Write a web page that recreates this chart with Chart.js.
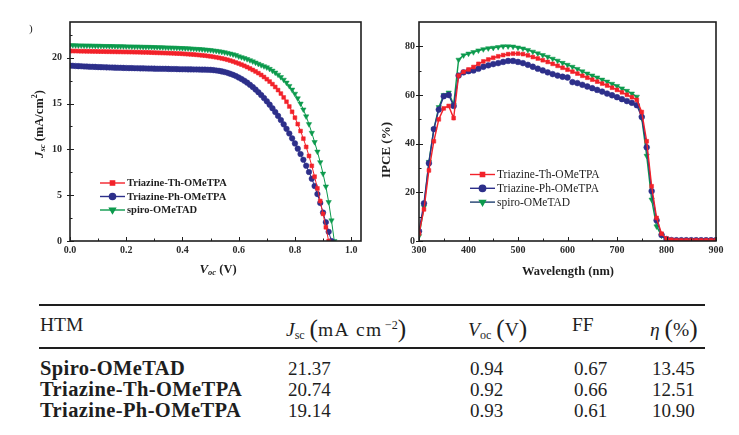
<!DOCTYPE html>
<html><head><meta charset="utf-8">
<script src="https://cdn.jsdelivr.net/npm/chart.js@4.4.1/dist/chart.umd.min.js"></script>
<style>
html,body{margin:0;padding:0;background:#fff;}
body{width:739px;height:435px;position:relative;overflow:hidden;font-family:"Liberation Serif",serif;color:#1e1e1e;}
#c1{position:absolute;left:0;top:0;}
#c2{position:absolute;left:370px;top:0;}
.t{position:absolute;white-space:nowrap;font-size:19px;line-height:1;}
.h{font-size:19.5px;}
.b{font-weight:bold;font-size:20.5px;letter-spacing:0.4px;}
.rule{position:absolute;left:39px;width:666px;background:#1e1e1e;}
.sub{font-size:0.62em;position:relative;top:0.28em;font-style:normal;}
.sup{font-size:0.62em;position:relative;top:-0.55em;}
.it{font-style:italic;}
.big{font-size:1.3em;position:relative;top:0.04em;}
.wide{letter-spacing:1.3px;}
</style></head><body>
<canvas id="c1" width="370" height="290"></canvas>
<canvas id="c2" width="369" height="290"></canvas>
<div class="t" style="left:29px;top:23px;font-size:11px;">)</div>
<div class="rule" style="top:304px;height:2px;"></div>
<div class="rule" style="top:347px;height:1.5px;"></div>
<div id="table"></div>
<script>
// ---------------- DATA ----------------
const seriesNames = ['Triazine-Th-OMeTPA', 'Triazine-Ph-OMeTPA', 'spiro-OMeTAD'];

// J-V curves (V in volts, J in mA/cm2)
const jvVoltage = [0.00,0.01,0.02,0.03,0.04,0.05,0.06,0.07,0.08,0.09,0.10,0.11,0.12,0.13,0.14,0.15,0.16,0.17,0.18,0.19,
  0.20,0.21,0.22,0.23,0.24,0.25,0.26,0.27,0.28,0.29,0.30,0.31,0.32,0.33,0.34,0.35,0.36,0.37,0.38,0.39,
  0.40,0.41,0.42,0.43,0.44,0.45,0.46,0.47,0.48,0.49,0.50,0.51,0.52,0.53,0.54,0.55,0.56,0.57,0.58,0.59,
  0.60,0.61,0.62,0.63,0.64,0.65,0.66,0.67,0.68,0.69,0.70,0.71,0.72,0.73,0.74,0.75,0.76,0.77,0.78,0.79,
  0.80,0.81,0.82,0.83,0.84,0.85,0.86,0.87,0.88,0.89,0.90,0.91,0.92,0.93,0.94];

const jvTh = [20.74,20.73,20.73,20.72,20.71,20.71,20.70,20.70,20.69,20.69,20.68,20.67,20.67,20.66,20.66,20.65,20.65,20.64,20.64,20.63,
  20.63,20.62,20.62,20.61,20.61,20.60,20.59,20.59,20.58,20.56,20.55,20.54,20.53,20.52,20.51,20.50,20.49,20.48,20.46,20.45,
  20.43,20.41,20.39,20.37,20.35,20.32,20.29,20.26,20.23,20.19,20.15,20.10,20.05,19.99,19.93,19.86,19.78,19.69,19.59,19.48,
  19.37,19.25,19.12,18.98,18.83,18.67,18.50,18.32,18.12,17.90,17.66,17.40,17.12,16.81,16.47,16.09,15.67,15.20,14.68,14.10,
  13.46,12.76,12.00,11.17,10.27,9.28,8.20,7.02,5.74,4.36,2.96,1.50,0.00];

const jvPh = [19.14,19.12,19.10,19.08,19.07,19.05,19.04,19.02,19.01,19.00,18.98,18.97,18.96,18.95,18.94,18.93,18.92,18.91,18.90,18.89,
  18.88,18.87,18.87,18.86,18.85,18.84,18.84,18.83,18.82,18.82,18.81,18.80,18.80,18.79,18.79,18.78,18.77,18.77,18.76,18.75,
  18.74,18.74,18.73,18.73,18.72,18.72,18.71,18.70,18.70,18.69,18.68,18.65,18.61,18.57,18.51,18.44,18.35,18.25,18.13,18.00,
  17.85,17.68,17.49,17.28,17.05,16.80,16.53,16.24,15.93,15.60,15.25,14.88,14.49,14.08,13.65,13.20,12.73,12.24,11.73,11.20,
  10.65,10.08,9.49,8.87,8.22,7.53,6.80,6.00,5.12,4.15,3.10,2.05,1.00,0.00];

const jvSpiro = [21.37,21.36,21.35,21.34,21.34,21.33,21.32,21.32,21.31,21.30,21.30,21.29,21.28,21.28,21.27,21.27,21.26,21.25,21.25,21.24,
  21.23,21.23,21.22,21.21,21.21,21.20,21.19,21.18,21.18,21.17,21.16,21.15,21.14,21.13,21.12,21.11,21.10,21.09,21.08,21.06,
  21.05,21.03,21.02,21.00,20.98,20.96,20.94,20.92,20.89,20.86,20.83,20.79,20.75,20.70,20.65,20.59,20.52,20.45,20.37,20.28,
  20.15,20.06,19.96,19.85,19.73,19.60,19.47,19.33,19.19,19.07,18.95,18.78,18.59,18.38,18.15,17.89,17.60,17.28,16.92,16.52,
  16.07,15.57,15.00,14.35,13.60,12.75,11.80,10.80,9.75,8.60,7.35,5.95,4.25,2.25,0.00];

// IPCE spectra (wavelength in nm, IPCE in %)
const wavelength = [300,310,320,330,340,350,360,370,380,390,400,410,420,430,440,450,460,470,480,490,
  500,510,520,530,540,550,560,570,580,590,600,610,620,630,640,650,660,670,680,690,
  700,710,720,730,740,750,760,770,780,790,800,810,820,830,840,850,860,870,880,890,900];

const ipceTh = [3,13,29,41,50,54.5,55.5,50.5,68,69.5,70.5,71.5,72.8,73.8,74.6,75.3,75.9,76.4,76.8,77,
  77,76.8,76.3,75.6,75,74.3,73.6,72.8,72,71.2,70.4,69.6,68.8,67.9,67.1,66.3,65.5,64.7,63.9,63,
  62.1,61.1,60.1,59.1,58,53,41,22.5,9.5,3,1,0.5,0.3,0.3,0.3,0.3,0.3,0.3,0.3,0.3,0.3];

const ipcePh = [4,15.5,32,46,54,59.5,60,55.5,68,69.3,69.8,70.1,70.8,71.6,72.2,72.7,73.1,73.6,74,74,
  73.6,73.1,72.4,71.6,70.8,70.1,69.3,68.6,68,67.5,67.2,65.3,64.9,64.2,63.5,62.8,62.1,61.4,60.6,59.9,
  59.1,58.3,57.5,56.8,55.8,51,38.5,20.5,8.5,2.5,0.8,0.4,0.3,0.3,0.3,0.3,0.3,0.3,0.3,0.3,0.3];

const ipceSpiro = [2,14,32.5,46,55,60,61,56,74.5,76.3,77,77.6,78.3,78.8,79.2,79.4,79.7,80,80,79.9,
  79.5,79.1,78.5,77.8,77.1,76.4,75.7,74.9,74.1,73.2,72.4,71.6,70.7,69.7,68.8,68,67.2,66.3,65.5,64.6,
  63.7,62.7,61.7,60.6,59.3,50.5,35,17,6,2.2,0.8,0.4,0.3,0.3,0.3,0.3,0.3,0.3,0.3,0.3,0.3];

// Axis ticks
const jvXTicks = [0.0,0.2,0.4,0.6,0.8,1.0];
const jvXMinor = [0.1,0.3,0.5,0.7,0.9];
const jvYTicks = [0,5,10,15,20];
const jvYMinor = [2.5,7.5,12.5,17.5,22.5];
const ipceXTicks = [300,400,500,600,700,800,900];
const ipceXMinor = [350,450,550,650,750,850];
const ipceYTicks = [0,20,40,60,80];
const ipceYMinor = [10,30,50,70];

// Table
const tableHeaders = ['HTM','Jsc','Voc','FF','eta'];
const tableHTM = ['Spiro-OMeTAD','Triazine-Th-OMeTPA','Triazine-Ph-OMeTPA'];
const tableJsc = [21.37,20.74,19.14];
const tableVoc = [0.94,0.92,0.93];
const tableFF = [0.67,0.66,0.61];
const tableEta = [13.45,12.51,10.90];

// ---------------- STYLE ----------------
const RED = '#f2222a', BLUE = '#2d2f8a', GREEN = '#0c9a4d', INK = '#1e1e1e';
const SERIF = '"Liberation Serif", "Times New Roman", serif';

function pts(xs, ys){ return ys.map((y,i)=>({x:xs[i], y:y})); }

const framePlugin = {
  id:'frame',
  afterDraw(chart, args, o){
    const {ctx, chartArea:a, scales} = chart;
    const xs = scales.x, ys = scales.y;
    ctx.save();
    ctx.strokeStyle = INK;
    ctx.lineWidth = 1;
    const ln = (x1,y1,x2,y2)=>{ctx.beginPath();ctx.moveTo(x1,y1);ctx.lineTo(x2,y2);ctx.stroke();};
    o.xMajor.forEach(v=>{const p=Math.round(xs.getPixelForValue(v))+0.5; ln(p,a.bottom,p,a.bottom-4);});
    o.xMinor.forEach(v=>{const p=Math.round(xs.getPixelForValue(v))+0.5; ln(p,a.bottom,p,a.bottom-2.5);});
    o.yMajor.forEach(v=>{const p=Math.round(ys.getPixelForValue(v))+0.5; ln(a.left-3,p,a.left+4,p);});
    o.yMinor.forEach(v=>{const p=Math.round(ys.getPixelForValue(v))+0.5; ln(a.left,p,a.left+2.5,p);});
    ctx.lineWidth = 1.6;
    ctx.strokeRect(a.left, a.top, a.right-a.left, a.bottom-a.top);
    ctx.restore();
  }
};

function drawRich(ctx, parts, cx, cy, rot){
  ctx.save();
  ctx.translate(cx, cy);
  if (rot) ctx.rotate(rot);
  let w = 0;
  parts.forEach(p=>{ctx.font = p.f; w += ctx.measureText(p.t).width;});
  let x = -w/2;
  ctx.textBaseline = 'middle';
  ctx.fillStyle = INK;
  parts.forEach(p=>{ctx.font = p.f; ctx.fillText(p.t, x, p.dy||0); x += ctx.measureText(p.t).width;});
  ctx.restore();
}

const titlePlugin = {
  id:'titles',
  afterDraw(chart, args, o){
    o.items.forEach(it=>drawRich(chart.ctx, it.parts, it.x, it.y, it.rot));
  }
};

const legendPlugin = {
  id:'customLegend',
  afterDraw(chart, args, o){
    const ctx = chart.ctx;
    chart.data.datasets.forEach((ds,i)=>{
      const y = o.y0 + i*o.dy;
      ctx.save();
      ctx.strokeStyle = (o.lineColors && o.lineColors[i]) || ds.borderColor;
      ctx.lineWidth = 1.4;
      ctx.beginPath(); ctx.moveTo(o.x0, y); ctx.lineTo(o.x0+o.len, y); ctx.stroke();
      ctx.fillStyle = ds.pointBackgroundColor;
      ctx.strokeStyle = ds.pointBackgroundColor;
      Chart.helpers.drawPoint(ctx, {pointStyle: ds.pointStyle, radius: ds.pointRadius+0.3, rotation: ds.pointRotation||0, borderWidth: 0.5}, o.x0+o.len/2, y);
      ctx.fillStyle = INK;
      ctx.font = o.font;
      ctx.textBaseline = 'middle';
      ctx.fillText(ds.label, o.x0+o.len+2, y+0.5);
      ctx.restore();
    });
  }
};

function fixedTicks(arr){ return (scale)=>{ scale.ticks = arr.map(v=>({value:v})); }; }
const tickFont = {family: SERIF, weight:'bold', size:10};

function ds(label, data, color, style, radius, rot, lw, extra){
  return Object.assign({
    label, data, borderColor: color, backgroundColor: color,
    pointBackgroundColor: color, pointBorderColor: color, pointBorderWidth: 0.5,
    pointStyle: style, pointRadius: radius, pointRotation: rot, borderWidth: lw,
    tension: 0, fill: false
  }, extra||{});
}

const noGrid = {display:false, drawTicks:false};

// ---------------- LEFT: J-V ----------------
new Chart(document.getElementById('c1'), {
  type:'line',
  data:{datasets:[
    ds(seriesNames[0], pts(jvVoltage, jvTh), RED, 'rect', 2.7, 0, 1),
    ds(seriesNames[1], pts(jvVoltage, jvPh), BLUE, 'circle', 2.8, 0, 1),
    ds(seriesNames[2], pts(jvVoltage, jvSpiro), GREEN, 'triangle', 3.1, 180, 1)
  ]},
  options:{
    responsive:false, animation:false, devicePixelRatio:1,
    layout:{padding:{left:0, top:22, right:9, bottom:0}},
    scales:{
      x:{type:'linear', min:0, max:1.035, afterBuildTicks: fixedTicks(jvXTicks),
         afterFit:(s)=>{s.height=49;},
         grid:noGrid, border:{display:false},
         ticks:{font:tickFont, color:'#2a2a2a', padding:3, maxRotation:0, autoSkip:false, callback:(v)=>Number(v).toFixed(1)}},
      y:{type:'linear', min:0, max:23.9, afterBuildTicks: fixedTicks(jvYTicks),
         afterFit:(s)=>{s.width=70;},
         grid:noGrid, border:{display:false},
         ticks:{font:tickFont, color:'#2a2a2a', padding:8, autoSkip:false, callback:(v)=>String(v)}}
    },
    plugins:{
      legend:{display:false}, tooltip:{enabled:false},
      frame:{xMajor:jvXTicks, xMinor:jvXMinor, yMajor:jvYTicks, yMinor:jvYMinor},
      customLegend:{x0:100, y0:183, dy:13.5, len:25, font:'bold 10.5px '+SERIF},
      titles:{items:[
        {x:218, y:270, rot:0, parts:[
          {t:'V', f:'italic bold 13px '+SERIF},
          {t:'oc', f:'italic bold 8.5px '+SERIF, dy:3},
          {t:' (V)', f:'bold 12.5px '+SERIF}]},
        {x:40, y:124, rot:-Math.PI/2, parts:[
          {t:'J', f:'italic bold 13px '+SERIF},
          {t:'sc', f:'italic bold 8.5px '+SERIF, dy:3},
          {t:' (mA/cm', f:'bold 12.5px '+SERIF},
          {t:'2', f:'bold 8px '+SERIF, dy:-5},
          {t:')', f:'bold 12.5px '+SERIF}]}
      ]}
    }
  },
  plugins:[framePlugin, legendPlugin, titlePlugin]
});

// ---------------- RIGHT: IPCE ----------------
new Chart(document.getElementById('c2'), {
  type:'line',
  data:{datasets:[
    ds(seriesNames[0], pts(wavelength, ipceTh), RED, 'rect', 2.7, 0, 1.4),
    ds(seriesNames[1], pts(wavelength, ipcePh), BLUE, 'circle', 2.9, 0, 1.4,
       {segment:{borderColor:(c)=> c.p0.parsed.x===600 ? 'rgba(0,0,0,0)' : undefined}}),
    ds(seriesNames[2], pts(wavelength, ipceSpiro), GREEN, 'triangle', 3.1, 180, 1.4)
  ]},
  options:{
    responsive:false, animation:false, devicePixelRatio:1,
    layout:{padding:{left:0, top:22, right:23, bottom:0}},
    scales:{
      x:{type:'linear', min:300, max:900, afterBuildTicks: fixedTicks(ipceXTicks),
         afterFit:(s)=>{s.height=49;},
         grid:noGrid, border:{display:false},
         ticks:{font:tickFont, color:'#2a2a2a', padding:3, maxRotation:0, autoSkip:false, callback:(v)=>String(v)}},
      y:{type:'linear', min:0, max:90, afterBuildTicks: fixedTicks(ipceYTicks),
         afterFit:(s)=>{s.width=49;},
         grid:noGrid, border:{display:false},
         ticks:{font:tickFont, color:'#2a2a2a', padding:4, autoSkip:false, callback:(v)=>String(v)}}
    },
    plugins:{
      legend:{display:false}, tooltip:{enabled:false},
      frame:{xMajor:ipceXTicks, xMinor:ipceXMinor, yMajor:ipceYTicks, yMinor:ipceYMinor},
      customLegend:{x0:100, y0:174.5, dy:13.8, len:25, font:'11.5px '+SERIF, lineColors:[RED, BLUE, '#1f3f6f']},
      titles:{items:[
        {x:198, y:272, rot:0, parts:[{t:'Wavelength (nm)', f:'bold 12.5px '+SERIF}]},
        {x:17, y:150, rot:-Math.PI/2, parts:[{t:'IPCE (%)', f:'bold 13px '+SERIF}]}
      ]}
    }
  },
  plugins:[framePlugin, legendPlugin, titlePlugin]
});

// ---------------- TABLE ----------------
(function(){
  const cols = [40, 286, 468, 572, 650];
  const headerTop = 315;
  const rowTops = [358.5, 379.5, 400.5];
  const t = document.getElementById('table');
  const hdr = [
    'HTM',
    '<span class="it">J</span><span class="sub">sc</span>&nbsp;<span class="big">(</span><span class="wide">mA&nbsp;cm</span><span class="sup">\u2009\u22122</span><span class="big">)</span>',
    '<span class="it">V</span><span class="sub">oc</span>&nbsp;<span class="big">(</span>V<span class="big">)</span>',
    'FF',
    '<span class="it">\u03b7</span>&nbsp;<span class="big">(</span>%<span class="big">)</span>'
  ];
  let html = '';
  hdr.forEach((h,i)=>{ html += `<div class="t h" style="left:${cols[i]}px;top:${headerTop}px;" data-col="${tableHeaders[i]}">${h}</div>`; });
  tableHTM.forEach((name,r)=>{
    const vals = [name, tableJsc[r].toFixed(2), tableVoc[r].toFixed(2), tableFF[r].toFixed(2), tableEta[r].toFixed(2)];
    vals.forEach((v,i)=>{
      html += `<div class="t${i===0?' b':''}" style="left:${cols[i]+(i===0?0:2)}px;top:${rowTops[r]-(i===0?1:0)}px;">${v}</div>`;
    });
  });
  t.innerHTML = html;
})();
</script>
</body></html>
